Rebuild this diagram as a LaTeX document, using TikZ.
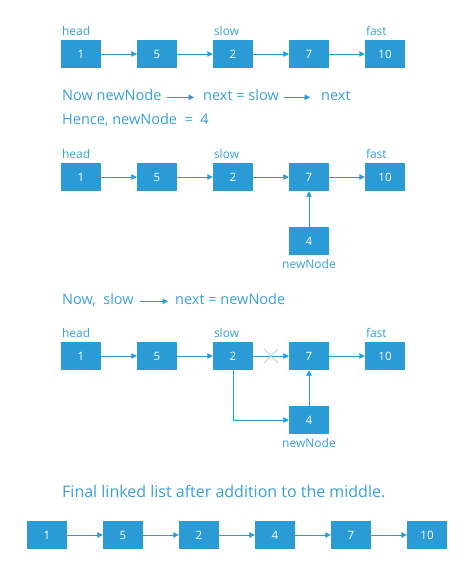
\documentclass[tikz,border=0pt]{standalone}
\usepackage{fontspec}
\setmainfont{Open Sans}
\usetikzlibrary{arrows.meta}
\definecolor{boxblue}{HTML}{2B9BD6}
\definecolor{txtblue}{HTML}{3A9FD9}
\definecolor{crossgray}{HTML}{B8D4E4}
\tikzset{
  box/.style={fill=boxblue, minimum width=40pt, minimum height=28pt, inner sep=0pt,
    text=white, font=\fontsize{11.5}{13}\selectfont},
  lbl/.style={text=txtblue, font=\fontsize{12}{14}\selectfont, inner sep=0pt},
  line/.style={text=txtblue, font=\fontsize{14.5}{16}\selectfont, inner sep=0pt, anchor=base west},
  arr/.style={draw=boxblue, line width=0.9pt, -{Triangle[length=5.5pt,width=5.5pt]}},
}
\begin{document}
\begin{tikzpicture}[x=1pt,y=-1pt]
\useasboundingbox (0,0) rectangle (474,573);
% Row 1
\node[box] (a1) at (81,54) {1};
\node[box] (a2) at (157,54) {5};
\node[box] (a3) at (233,54) {2};
\node[box] (a4) at (309,54) {7};
\node[box] (a5) at (385,54) {10};
\foreach \i/\j in {a1/a2,a2/a3,a3/a4,a4/a5} \draw[arr] (\i) -- (\j);
\node[lbl, anchor=base west] (la1) at ([xshift=1pt,yshift=4pt]a1.north west) {head};
\node[lbl, anchor=base west] (la3) at ([xshift=1pt,yshift=4pt]a3.north west) {slow};
\node[lbl, anchor=base west] (la5) at ([xshift=1pt,yshift=4pt]a5.north west) {fast};
% Text lines
\node[line] (t1) at (62,100) {Now newNode};
\node[line] (t2) at (203,100) {next = slow};
\node[line] (t3) at (321,100) {next};
\draw[arr, shorten <=5pt, shorten >=9pt] (t1.mid east) -- (t2.mid west);
\draw[arr, shorten <=5pt, shorten >=11pt] (t2.mid east) -- (t3.mid west);
\node[line] (t4) at (62,124) {Hence, newNode \ = \ 4};
% Row 2
\node[box] (b1) at (81,177) {1};
\node[box] (b2) at (157,177) {5};
\node[box] (b3) at (233,177) {2};
\node[box] (b4) at (309,177) {7};
\node[box] (b5) at (385,177) {10};
\node[box] (b6) at (309,241) {4};
\foreach \i/\j in {b1/b2,b2/b3,b3/b4,b4/b5,b6/b4} \draw[arr] (\i) -- (\j);
\node[lbl, anchor=base west] (lb1) at ([xshift=1pt,yshift=4pt]b1.north west) {head};
\node[lbl, anchor=base west] (lb3) at ([xshift=1pt,yshift=4pt]b3.north west) {slow};
\node[lbl, anchor=base west] (lb5) at ([xshift=1pt,yshift=4pt]b5.north west) {fast};
\node[lbl, anchor=north] (lb6) at ([yshift=-4pt]b6.south) {newNode};
% Text line 3
\node[line] (t5) at (62,304) {Now, \ slow};
\node[line] (t6) at (175,304) {next = newNode};
\draw[arr, shorten <=6pt, shorten >=7pt] (t5.mid east) -- (t6.mid west);
% Row 3
\node[box] (c1) at (81,356) {1};
\node[box] (c2) at (157,356) {5};
\node[box] (c3) at (233,356) {2};
\node[box] (c4) at (309,356) {7};
\node[box] (c5) at (385,356) {10};
\node[box] (c6) at (309,420) {4};
\foreach \i/\j in {c1/c2,c2/c3,c3/c4,c4/c5,c6/c4} \draw[arr] (\i) -- (\j);
\draw[arr] (c3.south) |- (c6.west);
\coordinate (x0) at (271,356);
\draw[crossgray, line width=0.8pt] ([shift={(-7,-7)}]x0) -- ([shift={(7,7)}]x0)
  ([shift={(-7,7)}]x0) -- ([shift={(7,-7)}]x0);
\node[lbl, anchor=base west] (lc1) at ([xshift=1pt,yshift=4pt]c1.north west) {head};
\node[lbl, anchor=base west] (lc3) at ([xshift=1pt,yshift=4pt]c3.north west) {slow};
\node[lbl, anchor=base west] (lc5) at ([xshift=1pt,yshift=4pt]c5.north west) {fast};
\node[lbl, anchor=north] (lc6) at ([yshift=-4pt]c6.south) {newNode};
% Final
\node[line, font=\fontsize{16}{18}\selectfont] (t7) at (62,497) {Final linked list after addition to the middle.};
\node[box] (d1) at (47,535) {1};
\node[box] (d2) at (123,535) {5};
\node[box] (d3) at (199,535) {2};
\node[box] (d4) at (275,535) {4};
\node[box] (d5) at (351,535) {7};
\node[box] (d6) at (427,535) {10};
\foreach \i/\j in {d1/d2,d2/d3,d3/d4,d4/d5,d5/d6} \draw[arr] (\i) -- (\j);
\end{tikzpicture}
\end{document}
